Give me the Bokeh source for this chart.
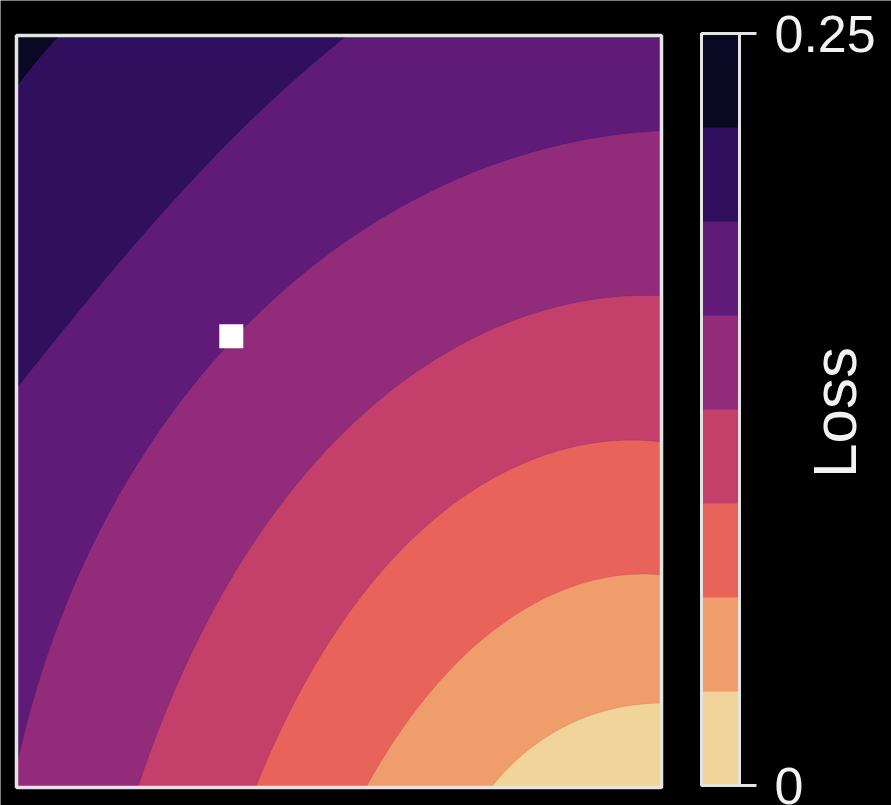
import numpy as np
from bokeh.plotting import figure
from bokeh.models import (LinearColorMapper, ColorBar, FixedTicker, Label, Range1d)
from bokeh.embed import file_html
from bokeh.resources import INLINE

# ---- data -----------------------------------------------------------------
# loss thresholds of the filled contour bands
LOSS_LEVELS = [0.0, 0.03125, 0.0625, 0.09375, 0.125, 0.15625, 0.1875, 0.21875, 0.25]
# one colour per band, lowest loss first
BAND_COLORS = ["#f1d49a", "#f09d6c", "#e8635a", "#c43f69",
               "#922b79", "#601a78", "#300f5f", "#0a0822"]

# iso-loss curves in (w1, w2) parameter space, one pair of lists per level
ISO_003_W1 = [1.0, 0.926, 0.874, 0.823, 0.771, 0.736]
ISO_003_W2 = [0.112, 0.105, 0.091, 0.067, 0.034, 0.0]
ISO_006_W1 = [1.0, 0.880, 0.776, 0.699, 0.621, 0.569, 0.541]
ISO_006_W2 = [0.283, 0.271, 0.231, 0.182, 0.102, 0.040, 0.0]
ISO_009_W1 = [1.0, 0.880, 0.776, 0.673, 0.569, 0.466, 0.394, 0.367]
ISO_009_W2 = [0.461, 0.453, 0.426, 0.377, 0.293, 0.164, 0.040, 0.0]
ISO_012_W1 = [1.0, 0.843, 0.719, 0.606, 0.492, 0.363, 0.270, 0.188]
ISO_012_W2 = [0.653, 0.641, 0.606, 0.541, 0.453, 0.328, 0.173, 0.0]
ISO_016_W1 = [1.0, 0.843, 0.688, 0.533, 0.394, 0.301, 0.192, 0.099, 0.037, 0.0]
ISO_016_W2 = [0.870, 0.858, 0.815, 0.741, 0.638, 0.555, 0.440, 0.294, 0.161, 0.011]
ISO_019_W1 = [0.513, 0.378, 0.254, 0.146, 0.068, 0.0]
ISO_019_W2 = [1.0, 0.900, 0.791, 0.681, 0.608, 0.529]
ISO_022_W1 = [0.066, 0.033, 0.0]
ISO_022_W2 = [1.0, 0.968, 0.932]

# current parameter estimate
CURRENT_W1 = [0.333]
CURRENT_W2 = [0.6]

ISO_CURVES = [
    (ISO_003_W1, ISO_003_W2), (ISO_006_W1, ISO_006_W2), (ISO_009_W1, ISO_009_W2),
    (ISO_012_W1, ISO_012_W2), (ISO_016_W1, ISO_016_W2), (ISO_019_W1, ISO_019_W2),
    (ISO_022_W1, ISO_022_W2),
]

# ---- page geometry (pixels) ----------------------------------------------
W, H = 891, 805
MAP_LEFT, MAP_BOTTOM = 16, 18          # offset of the map from the canvas
MAP_W, MAP_H = 645, 752                # size of the unit parameter square

# ---- geometry helpers -----------------------------------------------------
# the loss minimum lies just beyond the lower-right corner; curves are
# smoothed as radius vs. angle around that point
POLE_X, POLE_Y = 1.0, -0.15


def smooth_curve(xs, ys, n=300):
    xs = np.asarray(xs, dtype=float)
    ys = np.asarray(ys, dtype=float)
    th = np.arctan2(ys - POLE_Y, xs - POLE_X)
    r = np.hypot(xs - POLE_X, ys - POLE_Y)
    coef = np.polyfit(th, r, min(3, len(xs) - 1))
    t = np.linspace(th.min(), th.max(), n)
    rr = np.polyval(coef, t)
    return POLE_X + rr * np.cos(t), POLE_Y + rr * np.sin(t)


def clip_unit_box(pts):
    """Sutherland-Hodgman clip of a polygon to the unit square."""
    def clip(poly, inside, cut):
        out = []
        for i in range(len(poly)):
            cur, prev = poly[i], poly[i - 1]
            if inside(cur):
                if not inside(prev):
                    out.append(cut(prev, cur))
                out.append(cur)
            elif inside(prev):
                out.append(cut(prev, cur))
        return out

    def at_x(a, b, xv):
        t = (xv - a[0]) / (b[0] - a[0])
        return (xv, a[1] + t * (b[1] - a[1]))

    def at_y(a, b, yv):
        t = (yv - a[1]) / (b[1] - a[1])
        return (a[0] + t * (b[0] - a[0]), yv)

    pts = clip(pts, lambda p: p[0] >= 0, lambda a, b: at_x(a, b, 0.0))
    pts = clip(pts, lambda p: p[0] <= 1, lambda a, b: at_x(a, b, 1.0))
    pts = clip(pts, lambda p: p[1] >= 0, lambda a, b: at_y(a, b, 0.0))
    pts = clip(pts, lambda p: p[1] <= 1, lambda a, b: at_y(a, b, 1.0))
    return [p[0] for p in pts], [p[1] for p in pts]


def region_below(xs, ys):
    """Polygon of everything on the low-loss side of an iso-loss curve."""
    cx, cy = smooth_curve(xs, ys)
    sx, sy, ex, ey = cx[0], cy[0], cx[-1], cy[-1]
    head = [(2.0, sy)] if sx >= 0.99 else [(2.0, 2.0), (sx, 2.0)]
    tail = [(ex, -1.0)] if ey <= 0.02 else [(-1.0, ey), (-1.0, -1.0)]
    pts = [(2.0, -1.0)] + head + list(zip(cx, cy)) + tail
    return clip_unit_box(pts)


# ---- figure ---------------------------------------------------------------
# the frame spans the whole canvas so the colour bar and its title can sit
# beside the map
x_lo = -MAP_LEFT / MAP_W
y_lo = -MAP_BOTTOM / MAP_H
p = figure(frame_width=W, frame_height=H, min_border=0,
           x_range=Range1d(x_lo, x_lo + W / MAP_W),
           y_range=Range1d(y_lo, y_lo + H / MAP_H),
           x_axis_location=None, y_axis_location=None,
           output_backend="svg", toolbar_location=None)
p.grid.visible = False
p.border_fill_color = "black"
p.background_fill_color = "black"
p.outline_line_color = None

# highest-loss band fills the whole square
p.quad(left=[0], right=[1], bottom=[0], top=[1],
       fill_color=BAND_COLORS[-1], line_color=None)

# filled bands: paint the widest low-loss region first, narrower ones on top
patch_xs, patch_ys, patch_colors = [], [], []
for i in range(len(ISO_CURVES) - 1, -1, -1):
    xs, ys = ISO_CURVES[i]
    rx, ry = region_below(xs, ys)
    patch_xs.append(rx)
    patch_ys.append(ry)
    patch_colors.append(BAND_COLORS[i])

p.patches(xs=patch_xs, ys=patch_ys, fill_color=patch_colors,
          line_color="#000000", line_alpha=0.12, line_width=0.8)

p.scatter(x=CURRENT_W1, y=CURRENT_W2, marker="square", size=24,
          fill_color="white", line_color=None)

# border of the parameter square
p.quad(left=[0], right=[1], bottom=[0], top=[1],
       fill_color=None, line_color="#e4e4e4", line_width=3.5)

# colour bar, nudged up a touch so the lower tick label stays on the page
mapper = LinearColorMapper(palette=BAND_COLORS, low=LOSS_LEVELS[0], high=LOSS_LEVELS[-1])
cb = ColorBar(color_mapper=mapper,
              ticker=FixedTicker(ticks=[LOSS_LEVELS[0], LOSS_LEVELS[-1]]),
              major_label_overrides={0: "0", 0.25: "0.25"},
              width=38, height=MAP_H,
              location=(MAP_LEFT + MAP_W + 40, MAP_BOTTOM + 2),
              padding=0, margin=0,
              bar_line_color="#e4e4e4", bar_line_width=3,
              major_tick_in=0, major_tick_out=17,
              major_tick_line_color="#e4e4e4", major_tick_line_width=3,
              minor_tick_line_color=None,
              label_standoff=18,
              major_label_text_font="Liberation Sans",
              major_label_text_font_size="52px",
              major_label_text_color="#f2f2f2",
              background_fill_color=None, border_line_color=None)
p.add_layout(cb)

p.add_layout(Label(x=834, y=393, x_units="screen", y_units="screen",
                   text="Loss", angle=np.pi / 2,
                   text_align="center", text_baseline="middle",
                   text_font="Liberation Sans", text_font_size="62px",
                   text_color="#f2f2f2"))

open("out.html", "w").write(file_html(p, INLINE))
